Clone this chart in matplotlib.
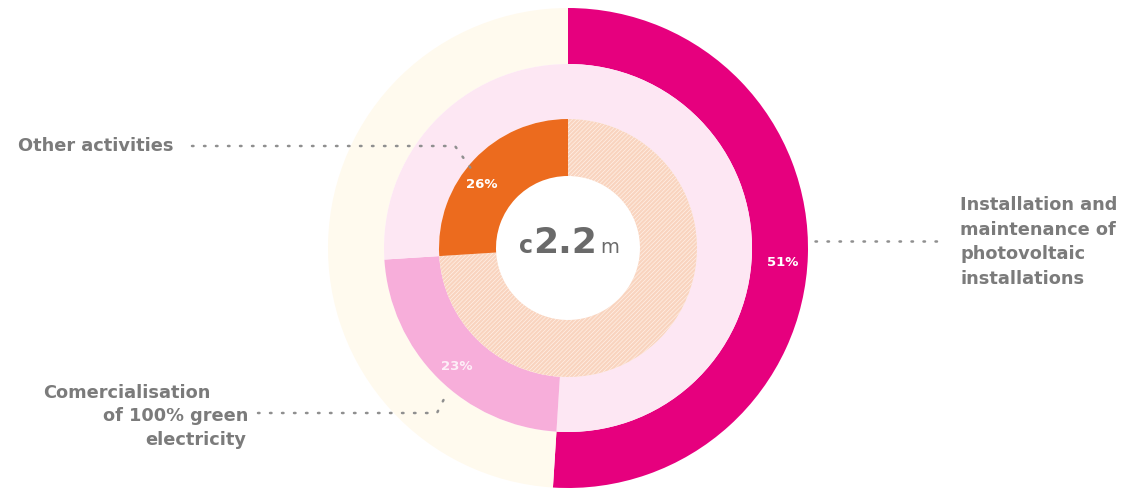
import numpy as np
import matplotlib
matplotlib.use('Agg')
import matplotlib.pyplot as plt

# Revenue split (share of c2.2m)
categories = ['Installation and maintenance of photovoltaic installations',
              'Comercialisation of 100% green electricity',
              'Other activities']
shares = [51, 23, 26]
pct_labels = ['51%', '23%', '26%']
total_prefix, total_value, total_suffix = 'c', '2.2', 'm'

label_lines = [['Installation and', 'maintenance of', 'photovoltaic', 'installations'],
               ['Comercialisation', 'of 100% green', 'electricity'],
               ['Other activities']]

plt.rcParams['font.family'] = ['DejaVu Sans']
plt.rcParams['hatch.linewidth'] = 0.5

W, H = 1145, 497
fig = plt.figure(figsize=(W / 100, H / 100), dpi=100)
ax = fig.add_axes([0, 0, 1, 1])

cx, cy = 568, 249
rings = [(240, 56), (184, 55), (129, 57)]          # outer radius, width
seg_colors = ['#E6007E', '#F7AEDA', '#EC6B1E']
rest_colors = ['#FFFAEE', '#FDE7F3', '#F9D4BF']
grey = '#7b7b7b'

start = 0
for i, share in enumerate(shares):
    r, w = rings[i]
    vals = [start, share, 100 - start - share]
    cols = [rest_colors[i], seg_colors[i], rest_colors[i]]
    wedges, _ = ax.pie(vals, colors=cols, radius=r, center=(cx, cy),
                       startangle=90, counterclock=False,
                       wedgeprops=dict(width=w, linewidth=0, edgecolor='white'))
    if i == 2:
        for k in (0, 2):
            wedges[k].set_hatch('////////')
            wedges[k].set_edgecolor('#FFF1E8')
            wedges[k].set_linewidth(0)
    start += share

# percentage labels
pct_pos = [(783, 235), (457, 131), (482, 313)]
pct_alpha = [1.0, 0.8, 1.0]
for (x, y), t, a in zip(pct_pos, pct_labels, pct_alpha):
    ax.text(x, y, t, color='white', alpha=a, fontsize=9.5, fontweight='bold',
            ha='center', va='center')

# centre total
ax.text(565, 244, total_value, color='#6a6a6a', fontsize=26, fontweight='bold',
        ha='center', va='baseline')
ax.text(533, 244, total_prefix, color='#6a6a6a', fontsize=17, fontweight='bold',
        ha='right', va='baseline')
ax.text(600, 244, total_suffix, color='#6a6a6a', fontsize=14,
        ha='left', va='baseline')

# category labels
fs = 12.8
ax.text(960, 255, '\n'.join(label_lines[0]), color=grey, fontsize=fs,
        fontweight='bold', ha='left', va='center', linespacing=1.48)
ax.text(210, 104, label_lines[1][0], color=grey, fontsize=fs,
        fontweight='bold', ha='right', va='center')
ax.text(248, 81, label_lines[1][1], color=grey, fontsize=fs,
        fontweight='bold', ha='right', va='center')
ax.text(246, 57, label_lines[1][2], color=grey, fontsize=fs,
        fontweight='bold', ha='right', va='center')
ax.text(18, 351, label_lines[2][0], color=grey, fontsize=fs,
        fontweight='bold', ha='left', va='center')

# dotted leader lines
dot = dict(color='#8f8f8f', linewidth=1.8, linestyle=(0, (0.6, 4.2)),
           dash_capstyle='round')
ax.plot([815, 945], [256, 256], **dot)
ax.plot([192, 455, 472], [351, 351, 327], **dot)
ax.plot([258, 437, 447], [84, 84, 104], **dot)

ax.set_xlim(0, W)
ax.set_ylim(0, H)
ax.set_aspect('equal')
ax.axis('off')

fig.savefig('out.png', dpi=100, facecolor='white')
